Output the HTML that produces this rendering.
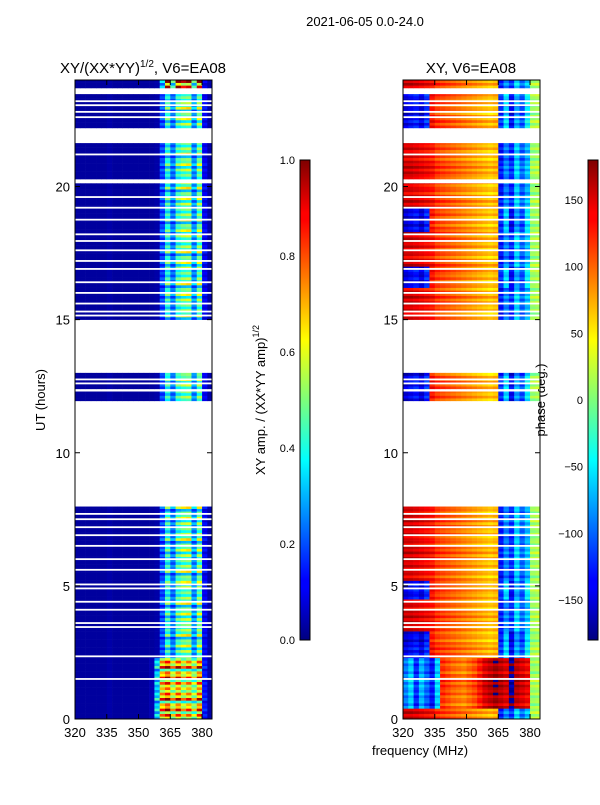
<!DOCTYPE html>
<html><head><meta charset="utf-8">
<style>
body{margin:0;background:#fff;}
svg text{font-family:"Liberation Sans",sans-serif;fill:#000;}
</style></head>
<body>
<svg id="fig" width="600" height="800" xmlns="http://www.w3.org/2000/svg">
<defs>
<linearGradient id="jetg" x1="0" y1="1" x2="0" y2="0">
<stop offset="0" stop-color="#00007f"/><stop offset="0.11" stop-color="#0000ff"/>
<stop offset="0.125" stop-color="#0000ff"/><stop offset="0.34" stop-color="#00dcff"/>
<stop offset="0.375" stop-color="#00ffff"/><stop offset="0.5" stop-color="#7dff7a"/>
<stop offset="0.625" stop-color="#ffff00"/><stop offset="0.66" stop-color="#ffdc00"/>
<stop offset="0.875" stop-color="#ff0000"/><stop offset="0.89" stop-color="#ff0000"/>
<stop offset="1" stop-color="#7f0000"/></linearGradient>
</defs>
<text x="365" y="26" font-size="13" text-anchor="middle">2021-06-05 0.0-24.0</text>
<text x="143" y="73" font-size="15" text-anchor="middle">XY/(XX*YY)<tspan dy="-6" font-size="10">1/2</tspan><tspan dy="6">, V6=EA08</tspan></text>
<text x="471" y="73" font-size="15" text-anchor="middle">XY, V6=EA08</text>
<text transform="translate(45,400) rotate(-90)" font-size="13" text-anchor="middle">UT (hours)</text>
<text x="420" y="755" font-size="13" text-anchor="middle">frequency (MHz)</text>
<text transform="translate(265,400) rotate(-90)" font-size="13" text-anchor="middle">XY amp. / (XX*YY amp)<tspan dy="-6" font-size="9">1/2</tspan></text>
<text transform="translate(545,400) rotate(-90)" font-size="13" text-anchor="middle">phase (deg.)</text>
<g id="ampPanel"></g>
<g id="phasePanel"></g>
<g id="axes"></g>
<rect x="300" y="160" width="10" height="480" fill="url(#jetg)" stroke="#000" stroke-width="1"/>
<rect x="588" y="160" width="10" height="480" fill="url(#jetg)" stroke="#000" stroke-width="1"/>
</svg>
<script>
const freqEdges=[320,322.5,325,327.5,330,332.5,335,337.5,340,342.5,345,347.5,350,352.5,355,357.5,360,362.5,365,367.5,370,372.5,375,377.5,380,382.5,384.7];
const ampN=[0.03,0.03,0.03,0.03,0.03,0.03,0.04,0.03,0.03,0.03,0.03,0.03,0.03,0.03,0.03,0.04,0.2,0.42,0.25,0.45,0.5,0.52,0.28,0.5,0.12,0.04];
const ampL=[0.03,0.03,0.03,0.03,0.03,0.03,0.04,0.03,0.03,0.03,0.03,0.03,0.03,0.03,0.05,0.35,0.7,0.8,0.6,0.75,0.6,0.7,0.55,0.75,0.15,0.04];
const ampT=[0.03,0.03,0.03,0.03,0.03,0.03,0.04,0.03,0.03,0.03,0.03,0.03,0.03,0.03,0.03,0.04,0.3,0.85,0.4,0.9,0.75,0.8,0.4,0.8,0.1,0.04];
const phA=[150,150,145,140,135,130,115,110,105,100,95,90,85,80,75,70,65,70,-130,-90,-120,-60,-100,-70,10,15];
const phB=[-150,-140,-130,-150,-120,130,115,110,105,100,95,90,85,80,75,70,65,70,-120,-60,-140,-80,-110,-50,10,15];
const phC=[-90,-60,-120,-70,-100,-130,-60,120,110,100,95,90,100,110,130,150,160,170,160,150,-170,160,150,140,10,15];
const segments=[[0,0.4,'L','A'],[0.4,2.3,'L','C'],[2.3,3.3,'N','B'],[3.3,4.5,'N','A'],[4.5,5.2,'N','B'],[5.2,7.98,'N','A'],[11.95,12.3,'N','B'],[12.4,13.0,'N','B'],[15.0,16.2,'N','A'],[16.2,17.0,'N','B'],[17.0,18.3,'N','A'],[18.3,19.2,'N','B'],[19.2,20.12,'N','A'],[20.28,21.63,'N','A'],[22.2,23.47,'N','B'],[23.7,24,'T','A']];
const gaps=[23.2,23.05,22.8,22.6,21.2,19.6,19.2,18.75,18.2,17.95,17.6,17.2,16.9,16.4,16.0,15.6,15.3,15.15,12.75,12.6,7.7,7.5,7.2,6.9,6.5,6.0,5.6,5.05,4.9,4.4,4.1,3.6,3.45,2.35,1.5];
const rowGain=[1,0.8,1.15,0.7,1.25,0.9,1,0.6,1.3,0.85,1.1,0.75];
const rowPhase=[0,15,-10,20,-5,10,-20,5,0,-15,12,-8];
const ampTicks=[0,0.2,0.4,0.6,0.8,1.0];
const phTicks=[-150,-100,-50,0,50,100,150];
const xTicks=[320,335,350,365,380];
const yTicks=[0,5,10,15,20];

const NS='http://www.w3.org/2000/svg';
const X0=[75,403],W=137;
function xs(f,p){return X0[p]+(f-320)*W/64.7;}
function ys(h){return 719-h*639/24;}
function jet(t){t=Math.max(0,Math.min(1,t));const c=v=>Math.round(255*Math.max(0,Math.min(1,v)));
return 'rgb('+c(1.5-Math.abs(4*t-3))+','+c(1.5-Math.abs(4*t-2))+','+c(1.5-Math.abs(4*t-1))+')';}
function mk(tag,attrs,parent){const e=document.createElementNS(NS,tag);for(const k in attrs)e.setAttribute(k,attrs[k]);parent.appendChild(e);return e;}
const ampMap={N:ampN,L:ampL,T:ampT},phMap={A:phA,B:phB,C:phC};
const gA=document.getElementById('ampPanel'),gP=document.getElementById('phasePanel');
let ri=0;
segments.forEach(s=>{
  for(let h=s[0];h<s[1]-1e-6;h+=0.1){
    const h2=Math.min(s[1],h+0.1);ri++;
    const g=rowGain[ri%rowGain.length],po=rowPhase[ri%rowPhase.length];
    const ap=ampMap[s[2]],pp=phMap[s[3]];
    for(let i=0;i<ap.length;i++){
      const y1=ys(h2),y2=ys(h);
      const a=ap[i]<0.06?ap[i]:ap[i]*g;
      let r=mk('rect',{x:xs(freqEdges[i],0),y:y1,width:xs(freqEdges[i+1],0)-xs(freqEdges[i],0)+0.3,height:y2-y1+0.3,fill:jet(a)},gA);
      
      
      let ph=pp[i]+po;if(ph>180)ph-=360;if(ph<-180)ph+=360;
      let q=mk('rect',{x:xs(freqEdges[i],1),y:y1,width:xs(freqEdges[i+1],1)-xs(freqEdges[i],1)+0.3,height:y2-y1+0.3,fill:jet((ph+180)/360)},gP);
      
      
    }
  }
});
const ax=document.getElementById('axes');
gaps.forEach(h=>{[0,1].forEach(p=>{
  let r=mk('rect',{x:X0[p],y:ys(h)-1,width:W,height:1.8,fill:'#fff'},ax);
  
  
});});
[0,1].forEach(p=>{
  let f=mk('rect',{x:X0[p],y:80,width:W,height:639,fill:'none',stroke:'#000','stroke-width':1},ax);
  
  
  xTicks.forEach(v=>{const x=xs(v,p);
    mk('line',{x1:x,x2:x,y1:719,y2:714,stroke:'#000'},ax);mk('line',{x1:x,x2:x,y1:80,y2:85,stroke:'#000'},ax);
    let t=mk('text',{x:x,y:737,'font-size':13,'text-anchor':'middle'},ax);t.textContent=v;
    
    });
  yTicks.forEach(v=>{const y=ys(v);
    mk('line',{x1:X0[p],x2:X0[p]+5,y1:y,y2:y,stroke:'#000'},ax);mk('line',{x1:X0[p]+W,x2:X0[p]+W-5,y1:y,y2:y,stroke:'#000'},ax);
    let t=mk('text',{x:X0[p]-5,y:y+5,'font-size':13,'text-anchor':'end'},ax);t.textContent=v;
    
    });
});
ampTicks.forEach(v=>{const y=640-v*480;
  mk('line',{x1:300,x2:304,y1:y,y2:y,stroke:'#000'},ax);mk('line',{x1:310,x2:306,y1:y,y2:y,stroke:'#000'},ax);
  let t=mk('text',{x:295,y:y+4,'font-size':11,'text-anchor':'end'},ax);t.textContent=v.toFixed(1);
  
  });
phTicks.forEach(v=>{const y=400-v*240/180;
  mk('line',{x1:588,x2:592,y1:y,y2:y,stroke:'#000'},ax);mk('line',{x1:598,x2:594,y1:y,y2:y,stroke:'#000'},ax);
  let t=mk('text',{x:583,y:y+4,'font-size':11,'text-anchor':'end'},ax);t.textContent=v<0?'\u2212'+(-v):v;
  
  });
</script>
</body></html>
